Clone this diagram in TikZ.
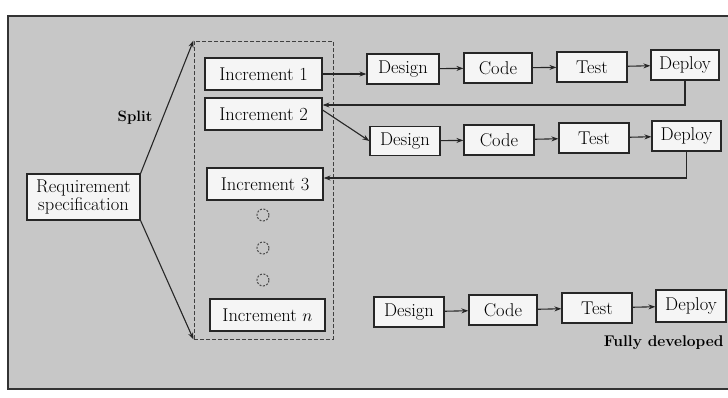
\documentclass[tikz,border=0pt]{standalone}
\usetikzlibrary{arrows.meta}
\begin{document}
\begin{tikzpicture}[x=1pt,y=-1pt,
  font=\fontsize{18.5}{19}\selectfont,
  box/.style={draw=black!85, fill=white!96!black, line width=1.2pt, inner sep=0pt,
              minimum height=30pt, align=center},
  incbox/.style={box, minimum width=117pt, minimum height=32pt},
  stepbox/.style={box, minimum width=70pt},
  flow/.style={draw=black!85, line width=1.1pt, -{Stealth[length=7pt,width=5pt]}},
  dotc/.style={circle, draw=black!70, dashed, dash pattern=on 2pt off 1.5pt,
               line width=1pt, minimum size=12pt, inner sep=0pt}
]
\useasboundingbox (0,0) rectangle (728,397);
% scanned page panel
\fill[white] (0,0) rectangle (728,397);
\draw[fill=black!22, draw=black!80, line width=1.5pt] (8,16) rectangle (740,389);

% group of increments
\node[draw=black!75, dashed, dash pattern=on 4pt off 2pt, line width=1pt,
      minimum width=139pt, minimum height=298pt, inner sep=0pt] (grp) at (263.5,190) {};

\node[incbox] (inc1) at (263.5,74) {Increment 1};
\node[incbox] (inc2) at (263.5,114) {Increment 2};
\node[incbox, minimum width=116pt] (inc3) at (265,184) {Increment 3};
\node[dotc] (o1) at (263,215) {};
\node[dotc] (o2) at (263,248) {};
\node[dotc] (o3) at (263,280) {};
\node[incbox, minimum width=115pt] (incn) at (267.5,315) {Increment $n$};

\node[box, minimum width=113pt, minimum height=46pt, font=\fontsize{18.5}{17.5}\selectfont]
  (req) at (83.5,197) {Requirement\\specification};

% split arrows
\draw[flow] (req.north east) -- (grp.north west);
\draw[flow] (req.south east) -- (grp.south west);
\node[font=\fontsize{15}{17}\selectfont\bfseries] (split) at (135,118) {Split};

% first increment pipeline
\node[stepbox, minimum width=72pt] (d1) at (403,69) {Design};
\node[stepbox, minimum width=68pt] (c1) at (498,68) {Code};
\node[stepbox] (t1) at (592,67) {Test};
\node[stepbox, minimum width=68pt] (p1) at (685,65) {Deploy};
\draw[flow] (inc1.east) -- (inc1.east -| d1.west);
\draw[flow] (d1) -- (c1);
\draw[flow] (c1) -- (t1);
\draw[flow] (t1) -- (p1);
\draw[flow] (p1.south) |- ([yshift=9pt]inc2.east);

% second increment pipeline
\node[stepbox, minimum height=29pt] (d2) at (405,141) {Design};
\node[stepbox] (c2) at (499,140) {Code};
\node[stepbox] (t2) at (594,138) {Test};
\node[stepbox, minimum width=69pt] (p2) at (686.5,136) {Deploy};
\draw[flow] ([yshift=4pt]inc2.east) -- (d2.west);
\draw[flow] (d2) -- (c2);
\draw[flow] (c2) -- (t2);
\draw[flow] (t2) -- (p2);
\draw[flow] (p2.south) |- ([yshift=6pt]inc3.east);

% final pipeline
\node[stepbox] (d3) at (409,312) {Design};
\node[stepbox, minimum width=68pt] (c3) at (503,310) {Code};
\node[stepbox] (t3) at (597,308) {Test};
\node[stepbox, minimum height=32pt] (p3) at (691,306) {Deploy};
\draw[flow] (d3) -- (c3);
\draw[flow] (c3) -- (t3);
\draw[flow] (t3) -- (p3);
\node[anchor=east, font=\fontsize{15.5}{17}\selectfont\bfseries] (done) at (727,343) {Fully developed};
\end{tikzpicture}
\end{document}
